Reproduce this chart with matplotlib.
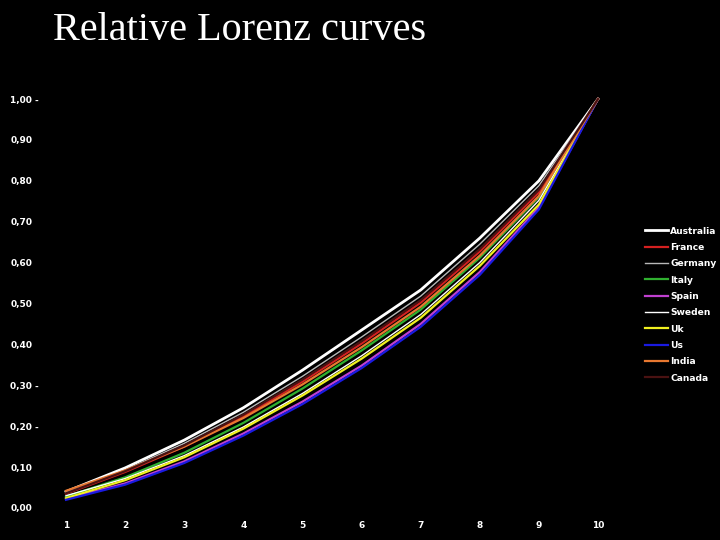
import matplotlib.pyplot as plt

deciles = [1, 2, 3, 4, 5, 6, 7, 8, 9, 10]
countries = ["Australia", "France", "Germany", "Italy", "Spain",
             "Sweden", "Uk", "Us", "India", "Canada"]

australia = [0.040, 0.098, 0.166, 0.245, 0.337, 0.435, 0.533, 0.660, 0.800, 1.0]
france = [0.035, 0.088, 0.150, 0.224, 0.309, 0.402, 0.502, 0.627, 0.772, 1.0]
germany = [0.038, 0.093, 0.158, 0.234, 0.322, 0.418, 0.518, 0.645, 0.788, 1.0]
italy = [0.028, 0.075, 0.135, 0.208, 0.292, 0.385, 0.485, 0.612, 0.760, 1.0]
spain = [0.022, 0.060, 0.114, 0.182, 0.260, 0.348, 0.450, 0.577, 0.735, 1.0]
sweden = [0.030, 0.072, 0.128, 0.198, 0.280, 0.372, 0.473, 0.600, 0.752, 1.0]
uk = [0.024, 0.068, 0.124, 0.194, 0.275, 0.365, 0.465, 0.592, 0.742, 1.0]
us = [0.020, 0.057, 0.110, 0.177, 0.254, 0.342, 0.443, 0.570, 0.730, 1.0]
india = [0.042, 0.092, 0.150, 0.220, 0.302, 0.393, 0.492, 0.617, 0.763, 1.0]
canada = [0.036, 0.090, 0.153, 0.228, 0.314, 0.408, 0.508, 0.633, 0.778, 1.0]

yticks = [0.0, 0.1, 0.2, 0.3, 0.4, 0.5, 0.6, 0.7, 0.8, 0.9, 1.0]
ytick_labels = ["0,00", "0,10", "0,20 -", "0,30 -", "0,40", "0,50",
                "0,60", "0,70", "0,80", "0,90", "1,00 -"]

series = [australia, france, germany, italy, spain, sweden, uk, us, india, canada]
colors = ["#ffffff", "#d42020", "#b8b8b8", "#30b030", "#c040d0",
          "#ffffff", "#f0f020", "#1a1ae0", "#e87830", "#4a1212"]
widths = [2.0, 1.6, 1.0, 1.6, 1.6, 1.0, 1.6, 1.6, 1.6, 1.6]

fig = plt.figure(figsize=(7.2, 5.4), dpi=100, facecolor="black")
ax = fig.add_axes([66 / 720, 32 / 540, 532 / 720, 409 / 540])
ax.set_facecolor("black")

for name, vals, c, w in zip(countries, series, colors, widths):
    ax.plot(deciles, vals, color=c, lw=w, label=name, clip_on=False)

ax.set_xlim(1, 10)
ax.set_ylim(0, 1)
ax.set_xticks(deciles)
ax.set_yticks(yticks)
ax.set_yticklabels(ytick_labels)
ax.tick_params(length=0, colors="white", labelsize=6.5)
ax.tick_params(axis="y", pad=40)
for lab in ax.get_yticklabels():
    lab.set_horizontalalignment("left")
    lab.set_fontweight("bold")
for lab in ax.get_xticklabels():
    lab.set_fontweight("bold")
ax.tick_params(axis="x", pad=9)
for s in ax.spines.values():
    s.set_visible(False)

leg = ax.legend(loc="upper left", bbox_to_anchor=(640 / 720, 1 - 222 / 540),
                bbox_transform=fig.transFigure, frameon=False, borderpad=0,
                handlelength=2.5, handletextpad=0.3, labelspacing=0.8,
                prop={"size": 6.6, "weight": "bold"}, labelcolor="white")

fig.text(53 / 720, 1 - 30 / 540, "Relative Lorenz curves", color="white",
         fontsize=29, family="Liberation Serif", va="center", ha="left")

fig.savefig("out.png", dpi=100, facecolor="black")
